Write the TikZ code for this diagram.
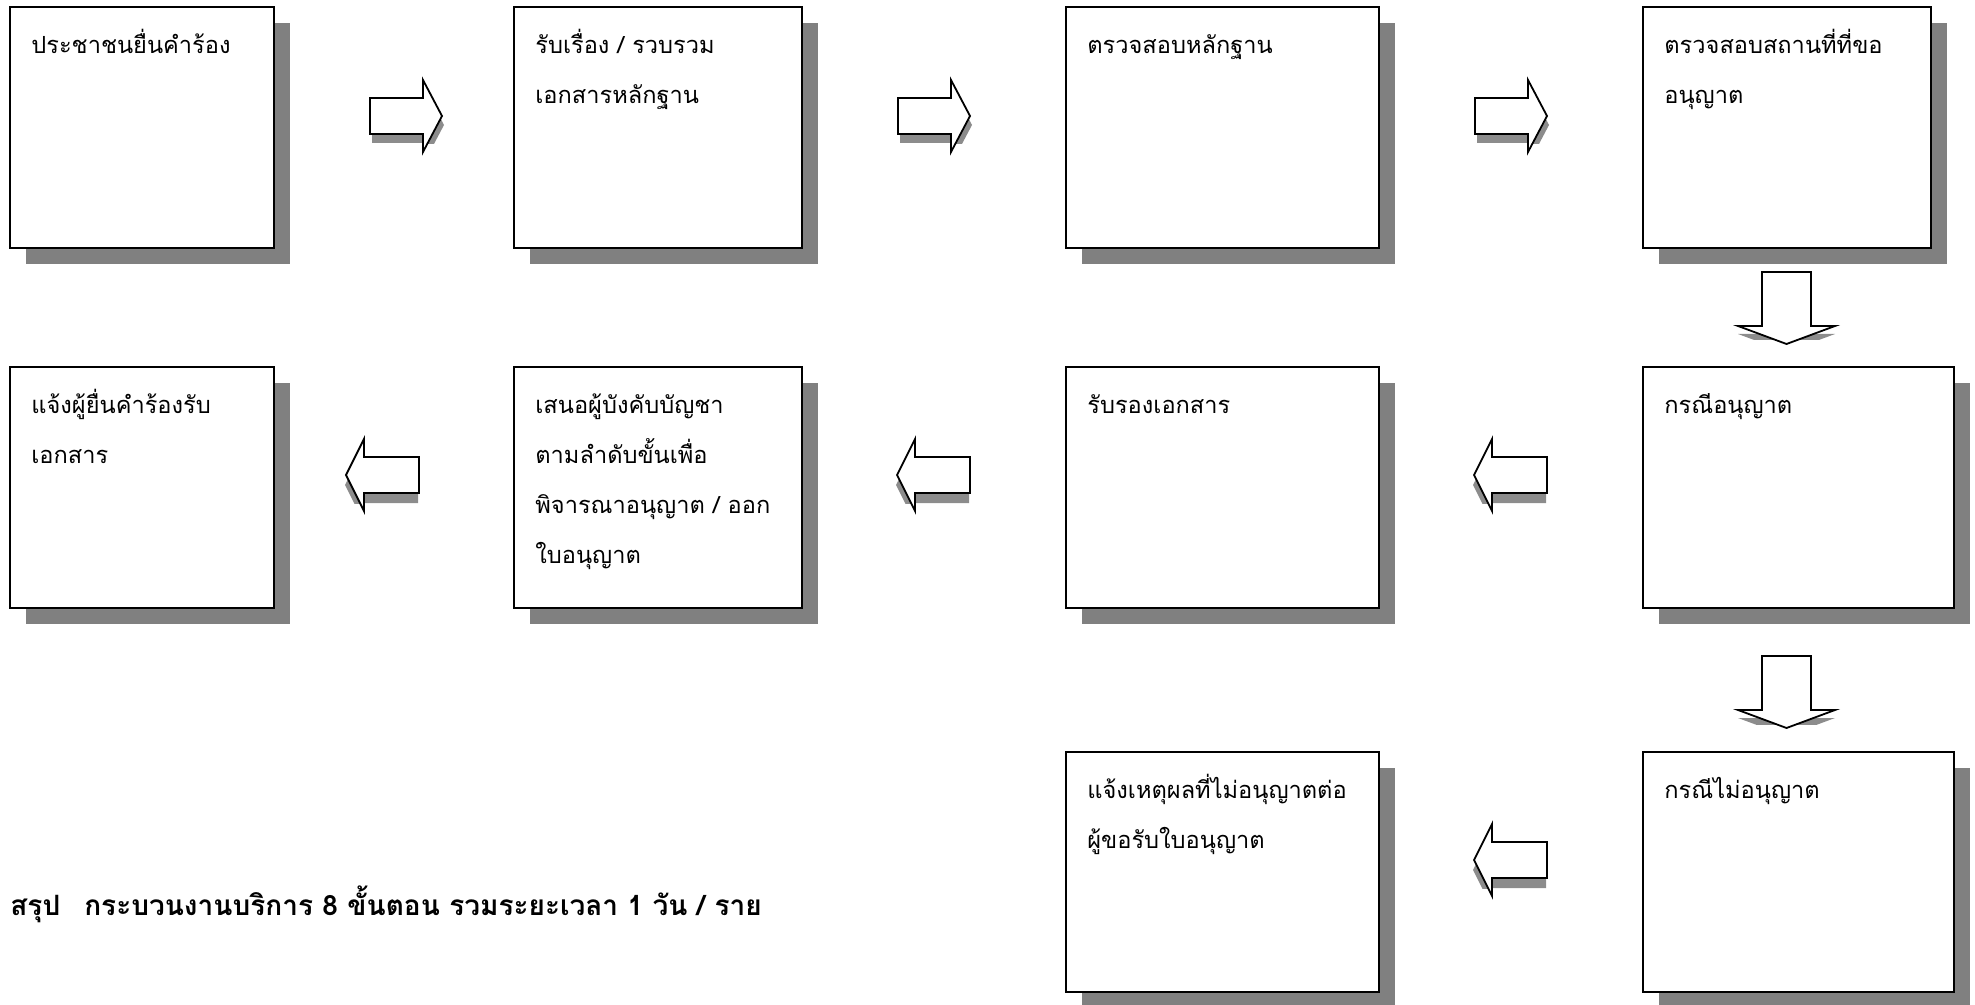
\documentclass[tikz,border=0pt]{standalone}
\usepackage{fontspec}
\newfontfamily\thai[Script=Thai]{Loma}
\usetikzlibrary{shadows,calc}
\tikzset{
  box/.style={draw, line width=0.8pt, fill=white, anchor=north west, inner sep=0pt, outer sep=0pt,
    drop shadow={opacity=1, fill=black!50, shadow xshift=8pt, shadow yshift=-8pt}},
  lbl/.style={anchor=north west, inner sep=0pt, align=left, font={\thai\fontsize{11.8}{25}\selectfont}},
  sumtext/.style={anchor=base west, inner sep=0pt, font={\thai\bfseries\fontsize{14}{16}\selectfont}},
  barrow/.style={draw, line width=0.9pt, fill=white, line join=miter},
  bshadow/.style={fill=black!45},
}
\newcommand\RArr[2]{%
  \begin{scope}[shift={(#1,#2)}]
    \begin{scope}
      \clip (-10,-40) rectangle (80,28);
      \fill[bshadow, shift={(2,9)}] (0,-18) -- (53,-18) -- (53,-36) -- (72,0) -- (53,36) -- (53,18) -- (0,18) -- cycle;
    \end{scope}
    \draw[barrow] (0,-18) -- (53,-18) -- (53,-36) -- (72,0) -- (53,36) -- (53,18) -- (0,18) -- cycle;
  \end{scope}}
\newcommand\LArr[2]{%
  \begin{scope}[shift={(#1,#2)}]
    \begin{scope}
      \clip (-10,-40) rectangle (80,28);
      \fill[bshadow, shift={(-1,10)}] (0,0) -- (18,-36) -- (18,-18) -- (73,-18) -- (73,18) -- (18,18) -- (18,36) -- cycle;
    \end{scope}
    \draw[barrow] (0,0) -- (18,-36) -- (18,-18) -- (73,-18) -- (73,18) -- (18,18) -- (18,36) -- cycle;
  \end{scope}}
\newcommand\DArr[2]{%
  \begin{scope}[shift={(#1,#2)}]
    \begin{scope}
      \clip (-60,-5) rectangle (60,68);
      \fill[bshadow, shift={(0,8)}] (-24.5,0) -- (24.5,0) -- (24.5,54) -- (48.5,54) -- (0,72) -- (-48.5,54) -- (-24.5,54) -- cycle;
    \end{scope}
    \draw[barrow] (-24.5,0) -- (24.5,0) -- (24.5,54) -- (48.5,54) -- (0,72) -- (-48.5,54) -- (-24.5,54) -- cycle;
  \end{scope}}
\begin{document}
\begin{tikzpicture}[x=0.5pt, y=-0.5pt]
\useasboundingbox (0,0) rectangle (1975,1005);
% row 1
\node[box, minimum width=132pt, minimum height=120.5pt] (b1) at (10,7) {};
\node[box, minimum width=144pt, minimum height=120.5pt] (b2) at (514,7) {};
\node[box, minimum width=156.5pt, minimum height=120.5pt] (b3) at (1066,7) {};
\node[box, minimum width=144pt, minimum height=120.5pt] (b4) at (1643,7) {};
% row 2
\node[box, minimum width=155.5pt, minimum height=120.5pt] (b5) at (1643,367) {};
\node[box, minimum width=156.5pt, minimum height=120.5pt] (b6) at (1066,367) {};
\node[box, minimum width=144pt, minimum height=120.5pt] (b7) at (514,367) {};
\node[box, minimum width=132pt, minimum height=120.5pt] (b8) at (10,367) {};
% row 3
\node[box, minimum width=155.5pt, minimum height=120pt] (b9) at (1643,752) {};
\node[box, minimum width=156.5pt, minimum height=120pt] (b10) at (1066,752) {};
% labels
\node[lbl] (t1) at ($(b1.north west)+(21,14)$) {\rule{0pt}{16pt}ประชาชนยื่นคำร้อง};
\node[lbl] (t2) at ($(b2.north west)+(21,14)$) {\rule{0pt}{16pt}รับเรื่อง / รวบรวม\\เอกสารหลักฐาน};
\node[lbl] (t3) at ($(b3.north west)+(21,14)$) {\rule{0pt}{16pt}ตรวจสอบหลักฐาน};
\node[lbl] (t4) at ($(b4.north west)+(21,14)$) {\rule{0pt}{16pt}ตรวจสอบสถานที่ที่ขอ\\อนุญาต};
\node[lbl] (t5) at ($(b5.north west)+(21,14)$) {\rule{0pt}{16pt}กรณีอนุญาต};
\node[lbl] (t6) at ($(b6.north west)+(21,14)$) {\rule{0pt}{16pt}รับรองเอกสาร};
\node[lbl] (t7) at ($(b7.north west)+(21,14)$) {\rule{0pt}{16pt}เสนอผู้บังคับบัญชา\\ตามลำดับขั้นเพื่อ\\พิจารณาอนุญาต / ออก\\ใบอนุญาต};
\node[lbl] (t8) at ($(b8.north west)+(21,14)$) {\rule{0pt}{16pt}แจ้งผู้ยื่นคำร้องรับ\\เอกสาร};
\node[lbl] (t9) at ($(b9.north west)+(21,14)$) {\rule{0pt}{16pt}กรณีไม่อนุญาต};
\node[lbl] (t10) at ($(b10.north west)+(21,14)$) {\rule{0pt}{16pt}แจ้งเหตุผลที่ไม่อนุญาตต่อ\\ผู้ขอรับใบอนุญาต};
% arrows
\RArr{370}{116}
\RArr{898}{116}
\RArr{1475}{116}
\DArr{1786.5}{272}
\LArr{346}{475}
\LArr{897}{475}
\LArr{1474}{475}
\DArr{1786.5}{656}
\LArr{1474}{860}
% summary
\node[sumtext] (sum) at (10,915) {สรุป\hspace{12pt}กระบวนงานบริการ 8 ขั้นตอน รวมระยะเวลา 1 วัน / ราย};
\end{tikzpicture}
\end{document}
